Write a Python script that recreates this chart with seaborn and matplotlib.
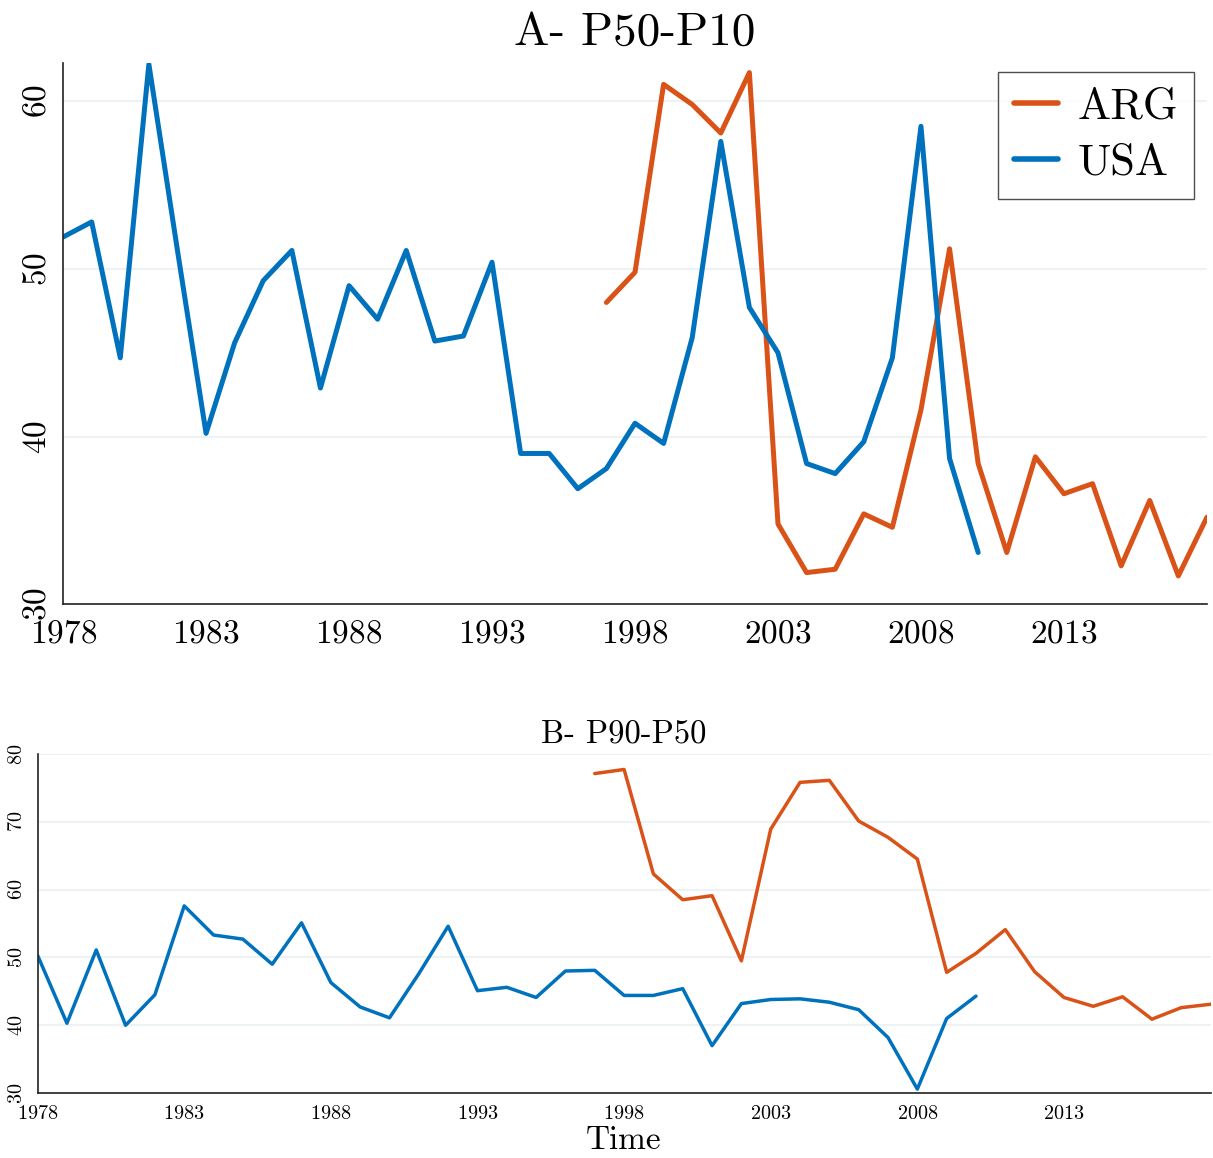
import numpy as np
import pandas as pd
import matplotlib
matplotlib.use("Agg")
import matplotlib.pyplot as plt
import seaborn as sns

# values
years_usa = list(range(1978, 2011))
years_arg = list(range(1997, 2019))

usa_p50_p10 = [51.9, 52.8, 44.7, 62.2, 51.1, 40.2, 45.6, 49.3, 51.1, 42.9,
               49.0, 47.0, 51.1, 45.7, 46.0, 50.4, 39.0, 39.0, 36.9, 38.1,
               40.8, 39.6, 45.9, 57.6, 47.7, 45.0, 38.4, 37.8, 39.7, 44.7,
               58.5, 38.7, 33.1]
arg_p50_p10 = [48.0, 49.8, 61.0, 59.8, 58.1, 61.7, 34.8, 31.9, 32.1, 35.4,
               34.6, 41.6, 51.2, 38.4, 33.1, 38.8, 36.6, 37.2, 32.3, 36.2,
               31.7, 35.2]

usa_p90_p50 = [50.3, 40.3, 51.1, 40.0, 44.5, 57.6, 53.3, 52.7, 49.0, 55.1,
               46.3, 42.7, 41.1, 47.6, 54.6, 45.1, 45.6, 44.1, 48.0, 48.1,
               44.4, 44.4, 45.4, 37.0, 43.2, 43.8, 43.9, 43.4, 42.3, 38.2,
               30.6, 41.0, 44.3]
arg_p90_p50 = [77.1, 77.7, 62.3, 58.5, 59.1, 49.5, 68.9, 75.8, 76.1, 70.1,
               67.7, 64.5, 47.8, 50.6, 54.1, 47.9, 44.1, 42.8, 44.2, 40.9,
               42.6, 43.1]

xticks = [1978, 1983, 1988, 1993, 1998, 2003, 2008, 2013]
colors = {"ARG": "#D95319", "USA": "#0072BD"}

top = pd.concat([
    pd.DataFrame({"year": years_arg, "value": arg_p50_p10, "country": "ARG"}),
    pd.DataFrame({"year": years_usa, "value": usa_p50_p10, "country": "USA"}),
])
bottom = pd.concat([
    pd.DataFrame({"year": years_arg, "value": arg_p90_p50, "country": "ARG"}),
    pd.DataFrame({"year": years_usa, "value": usa_p90_p50, "country": "USA"}),
])

sns.set_style("white")
plt.rcParams["font.family"] = "serif"
plt.rcParams["font.serif"] = ["cmr10", "DejaVu Serif"]
plt.rcParams["mathtext.fontset"] = "cm"
plt.rcParams["axes.formatter.use_mathtext"] = True
plt.rcParams["text.color"] = "black"
plt.rcParams["axes.labelcolor"] = "black"

fig = plt.figure(figsize=(12.13, 11.58), dpi=100)
ax1 = fig.add_axes([0.052, 0.478, 0.943, 0.468])
ax2 = fig.add_axes([0.031, 0.056, 0.967, 0.293])

sns.lineplot(data=top, x="year", y="value", hue="country", palette=colors,
             linewidth=3.6, ax=ax1)
sns.lineplot(data=bottom, x="year", y="value", hue="country", palette=colors,
             linewidth=2.5, ax=ax2, legend=False)

for ax in (ax1, ax2):
    ax.set_xlim(1978, 2018)
    ax.set_xticks(xticks)
    ax.grid(axis="y", color="#edf3f4", linewidth=1.5)
    ax.set_axisbelow(True)
    for s in ["top", "right"]:
        ax.spines[s].set_visible(False)
    for s in ["left", "bottom"]:
        ax.spines[s].set_color("#222222")
        ax.spines[s].set_linewidth(1.2)
    ax.tick_params(axis="both", direction="out", length=6.5, width=1,
                   color="#222222", labelcolor="black")
    ax.set_ylabel("")

ax1.set_ylim(30, 62.3)
ax1.set_yticks([30, 40, 50, 60])
ax1.tick_params(labelsize=24, pad=2)
ax1.tick_params(axis="x", pad=4)
for lab in ax1.get_yticklabels():
    lab.set_rotation(90)
    lab.set_va("center")
ax1.set_xlabel("")
ax1.set_title("A- P50-P10", fontsize=34, pad=13)
leg = ax1.legend(loc="upper right", fontsize=32, frameon=True, fancybox=False,
                 edgecolor="#222222", handlelength=1.0, borderpad=0.35,
                 labelspacing=0.35, handletextpad=0.45, borderaxespad=0.0,
                 bbox_to_anchor=(0.989, 0.983))
leg.get_frame().set_linewidth(1.0)
for line in leg.get_lines():
    line.set_linewidth(4)

ax2.set_ylim(30, 80)
ax2.set_yticks([30, 40, 50, 60, 70, 80])
ax2.tick_params(labelsize=14.5, pad=2)
for lab in ax2.get_yticklabels():
    lab.set_rotation(90)
    lab.set_va("center")
ax2.set_xlabel("Time", fontsize=24, labelpad=2)
ax2.set_title("B- P90-P50", fontsize=23.5, pad=8)

fig.savefig("out.png", dpi=100)
